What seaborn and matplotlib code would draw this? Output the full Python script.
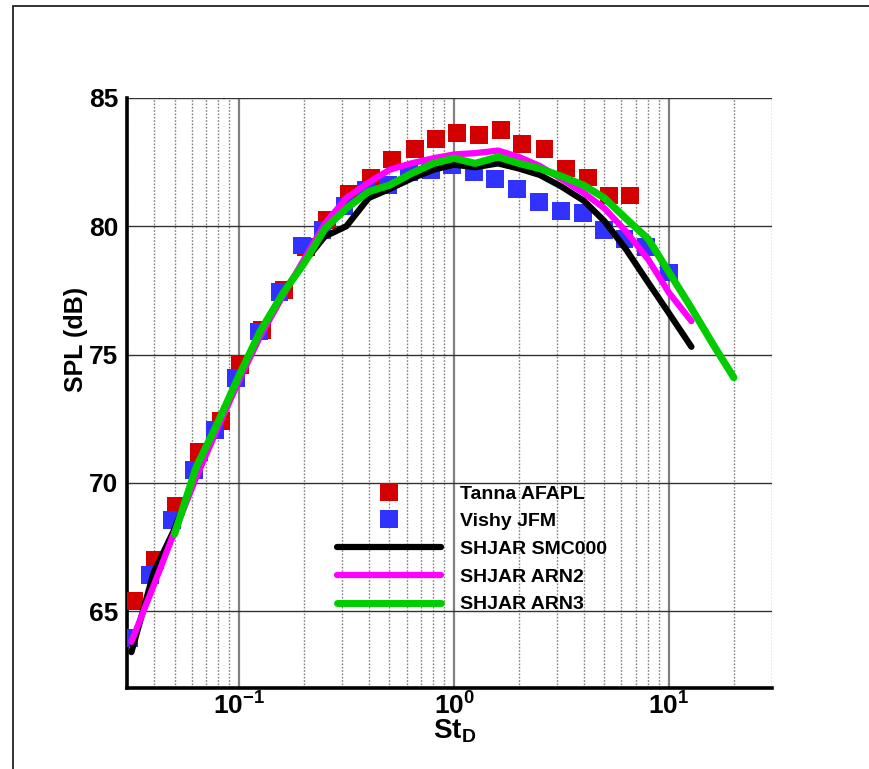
import seaborn as sns
import matplotlib.pyplot as plt
from matplotlib.lines import Line2D
from matplotlib.patches import Rectangle
from matplotlib.ticker import MultipleLocator, LogLocator, NullFormatter

# Experiments
tanna_st = [0.0324, 0.0405, 0.051, 0.065, 0.082, 0.101, 0.128, 0.161, 0.204, 0.255,
            0.325, 0.41, 0.515, 0.66, 0.825, 1.03, 1.31, 1.65, 2.07, 2.63,
            3.3, 4.18, 5.23, 6.6]
tanna_spl = [65.4, 67.0, 69.1, 71.2, 72.4, 74.6, 75.95, 77.5, 79.2, 80.25,
             81.25, 81.9, 82.6, 83.0, 83.4, 83.65, 83.55, 83.75, 83.2, 83.0,
             82.25, 81.9, 81.2, 81.2]
vishy_st = [0.0307, 0.0386, 0.0487, 0.0615, 0.077, 0.097, 0.123, 0.154, 0.195, 0.244,
            0.309, 0.39, 0.494, 0.618, 0.782, 0.98, 1.24, 1.55, 1.96, 2.48,
            3.14, 3.97, 4.97, 6.2, 7.8, 10.0]
vishy_spl = [63.95, 66.4, 68.55, 70.5, 72.05, 74.1, 75.9, 77.45, 79.25, 79.85,
             80.8, 81.4, 81.6, 82.1, 82.2, 82.4, 82.1, 81.85, 81.45, 80.95,
             80.6, 80.5, 79.85, 79.5, 79.2, 78.2]

# SHJAR runs
shjar_st = [0.0315, 0.04, 0.05, 0.063, 0.08, 0.1, 0.125, 0.16, 0.2, 0.25,
            0.315, 0.4, 0.5, 0.63, 0.8, 1.0, 1.25, 1.6, 2.0, 2.5,
            3.15, 4.0, 5.0, 6.3, 8.0, 10.0, 12.7]
smc000_spl = [63.4, 66.5, 68.2, 70.3, 72.3, 74.1, 75.9, 77.4, 78.6, 79.6,
              80.0, 81.1, 81.45, 81.85, 82.2, 82.4, 82.3, 82.45, 82.25, 82.0,
              81.55, 81.0, 80.2, 79.1, 77.8, 76.6, 75.3]
arn2_spl = [63.8, 66.0, 68.1, 70.2, 72.2, 74.0, 75.7, 77.3, 78.7, 80.1,
            81.1, 81.7, 82.2, 82.45, 82.65, 82.8, 82.85, 82.95, 82.7, 82.35,
            81.85, 81.3, 80.7, 79.8, 78.7, 77.4, 76.3]
arn3_st = [0.05, 0.063, 0.08, 0.1, 0.125, 0.16, 0.2, 0.25, 0.315, 0.4,
           0.5, 0.63, 0.8, 1.0, 1.25, 1.6, 2.0, 2.5, 3.15, 4.0,
           5.0, 6.3, 8.0, 10.0, 12.5, 16.0, 20.0]
arn3_spl = [68.0, 70.6, 72.4, 74.2, 75.9, 77.4, 78.55, 79.9, 80.7, 81.35,
            81.6, 82.05, 82.45, 82.65, 82.45, 82.7, 82.45, 82.25, 81.95, 81.6,
            81.1, 80.3, 79.5, 78.2, 76.9, 75.4, 74.1]

labels = ['Tanna AFAPL', 'Vishy JFM', 'SHJAR SMC000', 'SHJAR ARN2', 'SHJAR ARN3']
xtick_vals = [0.1, 1.0, 10.0]
xtick_labels = [r'$\mathbf{10^{-1}}$', r'$\mathbf{10^{0}}$', r'$\mathbf{10^{1}}$']

sns.set_style('white')
plt.rcParams['font.family'] = ['Liberation Sans', 'DejaVu Sans']
plt.rcParams['font.weight'] = 'bold'
plt.rcParams['text.color'] = 'black'
plt.rcParams['axes.labelcolor'] = 'black'
plt.rcParams['xtick.color'] = 'black'
plt.rcParams['ytick.color'] = 'black'
plt.rcParams['mathtext.fontset'] = 'custom'
plt.rcParams['mathtext.rm'] = 'Liberation Sans:bold'
plt.rcParams['mathtext.bf'] = 'Liberation Sans:bold'
plt.rcParams['mathtext.it'] = 'Liberation Sans:bold'

red = '#d40000'
blue = '#3232ff'
magenta = '#ff00ff'
green = '#00cc00'

fig = plt.figure(figsize=(8.69, 7.69), dpi=100)
ax = fig.add_axes([0.146, 0.1053, 0.742, 0.7673])

sns.scatterplot(x=tanna_st, y=tanna_spl, ax=ax, marker='s', s=165, color=red,
                edgecolor='none', zorder=3)
sns.scatterplot(x=vishy_st, y=vishy_spl, ax=ax, marker='s', s=165, color=blue,
                edgecolor='none', zorder=3)
sns.lineplot(x=shjar_st, y=smc000_spl, ax=ax, color='black', lw=4.5,
             sort=False, estimator=None, zorder=4)
sns.lineplot(x=shjar_st, y=arn2_spl, ax=ax, color=magenta, lw=4.5,
             sort=False, estimator=None, zorder=4)
sns.lineplot(x=arn3_st, y=arn3_spl, ax=ax, color=green, lw=5.2,
             sort=False, estimator=None, zorder=4)

ax.set_xscale('log')
ax.set_xlim(0.03, 30)
ax.set_ylim(62, 85)

# grid
ax.xaxis.set_minor_locator(LogLocator(base=10, subs=range(2, 10)))
ax.xaxis.set_minor_formatter(NullFormatter())
ax.set_xticks(xtick_vals)
ax.set_xticklabels(xtick_labels)
ax.yaxis.set_major_locator(MultipleLocator(5))
ax.yaxis.set_minor_locator(MultipleLocator(1))
ax.grid(which='major', axis='x', color='#808080', lw=1.6, ls='-')
ax.grid(which='minor', axis='x', color='#808080', lw=1.0, ls=(0, (1.2, 1.2)))
ax.grid(which='major', axis='y', color='#333333', lw=1.0, ls='-')
ax.set_axisbelow(True)

for side in ['top', 'right']:
    ax.spines[side].set_visible(False)
for side in ['left', 'bottom']:
    ax.spines[side].set_color('black')
    ax.spines[side].set_linewidth(2.6)

ax.tick_params(which='major', direction='in', length=12, width=2.2, color='black',
               labelsize=19, labelcolor='black')
ax.tick_params(axis='y', which='major', pad=6)
ax.tick_params(axis='x', which='major', pad=3)
ax.tick_params(axis='y', which='minor', direction='in', length=6, width=0.9,
               color='#555555')
ax.tick_params(axis='x', which='minor', direction='in', length=4, width=0.9,
               color='#555555')
for lab in ax.get_yticklabels():
    lab.set_fontweight('bold')

ax.set_xlabel(r'$\mathbf{St_{D}}$', fontsize=20)
ax.xaxis.set_label_coords(0.508, -0.05)
ax.set_ylabel('SPL (dB)', fontsize=18, fontweight='bold')
ax.yaxis.set_label_coords(-0.061, 0.59)

handles = [
    Line2D([], [], marker='s', color=red, ls='none', markersize=12.5, markeredgewidth=0),
    Line2D([], [], marker='s', color=blue, ls='none', markersize=12.5, markeredgewidth=0),
    Line2D([], [], color='black', lw=4.5, solid_capstyle='round'),
    Line2D([], [], color=magenta, lw=4.5, solid_capstyle='round'),
    Line2D([], [], color=green, lw=5, solid_capstyle='round'),
]
ax.legend(handles, labels, loc='upper left', bbox_to_anchor=(0.3766, 0.382),
          bbox_transform=fig.transFigure, frameon=False, borderpad=0,
          handlelength=5.35, handletextpad=1.0, labelspacing=0.52,
          prop={'size': 14, 'weight': 'bold'}, labelcolor='black')

# outer frame
fig.add_artist(Rectangle((13 / 869, -0.05), 1.2, 1.05 - 6 / 769,
                         transform=fig.transFigure, fill=False, lw=1.3,
                         ec='#222222'))

fig.savefig('out.png', dpi=100)
